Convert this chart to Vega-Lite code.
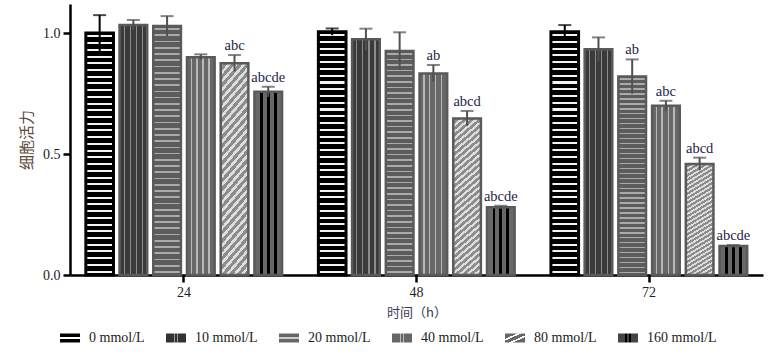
{
  "$schema": "https://vega.github.io/schema/vega-lite/v6.json",
  "autosize": {"type": "none"},
  "padding": {"left": 70, "top": 4, "right": 19, "bottom": 81},
  "width": 693,
  "height": 271,
  "background": "white",
  "config": {
    "view": {"stroke": null},
    "axis": {
      "domainColor": "#000", "domainWidth": 2.5, "tickColor": "#000", "tickWidth": 2.5, "tickSize": 7,
      "labelFont": "Liberation Serif", "labelFontSize": 14, "labelColor": "#222", "labelPadding": 3,
      "grid": false, "titleFont": "Noto Sans CJK SC", "titleFontWeight": "normal"
    }
  },
  "data": {"values": [
    {"time": "24", "conc": "0 mmol/L", "v": 1.0, "hi": 1.074, "lo": 0.926, "label": ""},
    {"time": "24", "conc": "10 mmol/L", "v": 1.033, "hi": 1.054, "lo": 1.012, "label": ""},
    {"time": "24", "conc": "20 mmol/L", "v": 1.029, "hi": 1.07, "lo": 0.988, "label": ""},
    {"time": "24", "conc": "40 mmol/L", "v": 0.9, "hi": 0.912, "lo": 0.888, "label": ""},
    {"time": "24", "conc": "80 mmol/L", "v": 0.875, "hi": 0.909, "lo": 0.841, "label": "abc"},
    {"time": "24", "conc": "160 mmol/L", "v": 0.757, "hi": 0.778, "lo": 0.736, "label": "abcde"},
    {"time": "48", "conc": "0 mmol/L", "v": 1.005, "hi": 1.019, "lo": 0.991, "label": ""},
    {"time": "48", "conc": "10 mmol/L", "v": 0.974, "hi": 1.018, "lo": 0.93, "label": ""},
    {"time": "48", "conc": "20 mmol/L", "v": 0.926, "hi": 1.003, "lo": 0.849, "label": ""},
    {"time": "48", "conc": "40 mmol/L", "v": 0.833, "hi": 0.868, "lo": 0.798, "label": "ab"},
    {"time": "48", "conc": "80 mmol/L", "v": 0.647, "hi": 0.678, "lo": 0.616, "label": "abcd"},
    {"time": "48", "conc": "160 mmol/L", "v": 0.28, "hi": 0.286, "lo": 0.274, "label": "abcde"},
    {"time": "72", "conc": "0 mmol/L", "v": 1.005, "hi": 1.033, "lo": 0.977, "label": ""},
    {"time": "72", "conc": "10 mmol/L", "v": 0.933, "hi": 0.982, "lo": 0.884, "label": ""},
    {"time": "72", "conc": "20 mmol/L", "v": 0.82, "hi": 0.891, "lo": 0.749, "label": "ab"},
    {"time": "72", "conc": "40 mmol/L", "v": 0.7, "hi": 0.72, "lo": 0.68, "label": "abc"},
    {"time": "72", "conc": "80 mmol/L", "v": 0.459, "hi": 0.485, "lo": 0.433, "label": "abcd"},
    {"time": "72", "conc": "160 mmol/L", "v": 0.12, "hi": 0.124, "lo": 0.116, "label": "abcde"}
  ]},
  "encoding": {
    "x": {"field": "time", "type": "nominal", "scale": {"paddingInner": 0.13, "paddingOuter": 0.055},
      "axis": {"labelAngle": 0, "title": "时间（h）", "titleFontSize": 13, "titleColor": "#3a3a55", "titlePadding": 7}},
    "xOffset": {"field": "conc", "type": "nominal", "scale": {"domain": ["0 mmol/L", "10 mmol/L", "20 mmol/L", "40 mmol/L", "80 mmol/L", "160 mmol/L"], "paddingInner": 0.18, "paddingOuter": 0.09}}
  },
  "layer": [
    {
      "mark": {"type": "bar"},
      "encoding": {
        "y": {"field": "v", "type": "quantitative", "title": "细胞活力", "scale": {"domain": [0, 1.12], "nice": false},
          "axis": {"values": [0, 0.5, 1], "format": ".1f", "titleFontSize": 15, "titleColor": "#5e4a3e", "titlePadding": 8}},
        "fill": {
          "condition": [
            {"test": "datum.conc === '0 mmol/L'", "value": {"gradient": "linear", "x1": 0, "y1": 0, "x2": 0, "y2": 1, "stops": [
              {"offset":0.0097,"color":"#000"},{"offset":0.0097,"color":"#f4f4f4"},{"offset":0.0181,"color":"#f4f4f4"},{"offset":0.0181,"color":"#000"},
              {"offset":0.0375,"color":"#000"},{"offset":0.0375,"color":"#f4f4f4"},{"offset":0.0458,"color":"#f4f4f4"},{"offset":0.0458,"color":"#000"},
              {"offset":0.0653,"color":"#000"},{"offset":0.0653,"color":"#f4f4f4"},{"offset":0.0736,"color":"#f4f4f4"},{"offset":0.0736,"color":"#000"},
              {"offset":0.0931,"color":"#000"},{"offset":0.0931,"color":"#f4f4f4"},{"offset":0.1014,"color":"#f4f4f4"},{"offset":0.1014,"color":"#000"},
              {"offset":0.1208,"color":"#000"},{"offset":0.1208,"color":"#f4f4f4"},{"offset":0.1292,"color":"#f4f4f4"},{"offset":0.1292,"color":"#000"},
              {"offset":0.1486,"color":"#000"},{"offset":0.1486,"color":"#f4f4f4"},{"offset":0.1569,"color":"#f4f4f4"},{"offset":0.1569,"color":"#000"},
              {"offset":0.1764,"color":"#000"},{"offset":0.1764,"color":"#f4f4f4"},{"offset":0.1847,"color":"#f4f4f4"},{"offset":0.1847,"color":"#000"},
              {"offset":0.2042,"color":"#000"},{"offset":0.2042,"color":"#f4f4f4"},{"offset":0.2125,"color":"#f4f4f4"},{"offset":0.2125,"color":"#000"},
              {"offset":0.2319,"color":"#000"},{"offset":0.2319,"color":"#f4f4f4"},{"offset":0.2403,"color":"#f4f4f4"},{"offset":0.2403,"color":"#000"},
              {"offset":0.2597,"color":"#000"},{"offset":0.2597,"color":"#f4f4f4"},{"offset":0.2681,"color":"#f4f4f4"},{"offset":0.2681,"color":"#000"},
              {"offset":0.2875,"color":"#000"},{"offset":0.2875,"color":"#f4f4f4"},{"offset":0.2958,"color":"#f4f4f4"},{"offset":0.2958,"color":"#000"},
              {"offset":0.3153,"color":"#000"},{"offset":0.3153,"color":"#f4f4f4"},{"offset":0.3236,"color":"#f4f4f4"},{"offset":0.3236,"color":"#000"},
              {"offset":0.3431,"color":"#000"},{"offset":0.3431,"color":"#f4f4f4"},{"offset":0.3514,"color":"#f4f4f4"},{"offset":0.3514,"color":"#000"},
              {"offset":0.3708,"color":"#000"},{"offset":0.3708,"color":"#f4f4f4"},{"offset":0.3792,"color":"#f4f4f4"},{"offset":0.3792,"color":"#000"},
              {"offset":0.3986,"color":"#000"},{"offset":0.3986,"color":"#f4f4f4"},{"offset":0.4069,"color":"#f4f4f4"},{"offset":0.4069,"color":"#000"},
              {"offset":0.4264,"color":"#000"},{"offset":0.4264,"color":"#f4f4f4"},{"offset":0.4347,"color":"#f4f4f4"},{"offset":0.4347,"color":"#000"},
              {"offset":0.4542,"color":"#000"},{"offset":0.4542,"color":"#f4f4f4"},{"offset":0.4625,"color":"#f4f4f4"},{"offset":0.4625,"color":"#000"},
              {"offset":0.4819,"color":"#000"},{"offset":0.4819,"color":"#f4f4f4"},{"offset":0.4903,"color":"#f4f4f4"},{"offset":0.4903,"color":"#000"},
              {"offset":0.5097,"color":"#000"},{"offset":0.5097,"color":"#f4f4f4"},{"offset":0.5181,"color":"#f4f4f4"},{"offset":0.5181,"color":"#000"},
              {"offset":0.5375,"color":"#000"},{"offset":0.5375,"color":"#f4f4f4"},{"offset":0.5458,"color":"#f4f4f4"},{"offset":0.5458,"color":"#000"},
              {"offset":0.5653,"color":"#000"},{"offset":0.5653,"color":"#f4f4f4"},{"offset":0.5736,"color":"#f4f4f4"},{"offset":0.5736,"color":"#000"},
              {"offset":0.5931,"color":"#000"},{"offset":0.5931,"color":"#f4f4f4"},{"offset":0.6014,"color":"#f4f4f4"},{"offset":0.6014,"color":"#000"},
              {"offset":0.6208,"color":"#000"},{"offset":0.6208,"color":"#f4f4f4"},{"offset":0.6292,"color":"#f4f4f4"},{"offset":0.6292,"color":"#000"},
              {"offset":0.6486,"color":"#000"},{"offset":0.6486,"color":"#f4f4f4"},{"offset":0.6569,"color":"#f4f4f4"},{"offset":0.6569,"color":"#000"},
              {"offset":0.6764,"color":"#000"},{"offset":0.6764,"color":"#f4f4f4"},{"offset":0.6847,"color":"#f4f4f4"},{"offset":0.6847,"color":"#000"},
              {"offset":0.7042,"color":"#000"},{"offset":0.7042,"color":"#f4f4f4"},{"offset":0.7125,"color":"#f4f4f4"},{"offset":0.7125,"color":"#000"},
              {"offset":0.7319,"color":"#000"},{"offset":0.7319,"color":"#f4f4f4"},{"offset":0.7403,"color":"#f4f4f4"},{"offset":0.7403,"color":"#000"},
              {"offset":0.7597,"color":"#000"},{"offset":0.7597,"color":"#f4f4f4"},{"offset":0.7681,"color":"#f4f4f4"},{"offset":0.7681,"color":"#000"},
              {"offset":0.7875,"color":"#000"},{"offset":0.7875,"color":"#f4f4f4"},{"offset":0.7958,"color":"#f4f4f4"},{"offset":0.7958,"color":"#000"},
              {"offset":0.8153,"color":"#000"},{"offset":0.8153,"color":"#f4f4f4"},{"offset":0.8236,"color":"#f4f4f4"},{"offset":0.8236,"color":"#000"},
              {"offset":0.8431,"color":"#000"},{"offset":0.8431,"color":"#f4f4f4"},{"offset":0.8514,"color":"#f4f4f4"},{"offset":0.8514,"color":"#000"},
              {"offset":0.8708,"color":"#000"},{"offset":0.8708,"color":"#f4f4f4"},{"offset":0.8792,"color":"#f4f4f4"},{"offset":0.8792,"color":"#000"},
              {"offset":0.8986,"color":"#000"},{"offset":0.8986,"color":"#f4f4f4"},{"offset":0.9069,"color":"#f4f4f4"},{"offset":0.9069,"color":"#000"},
              {"offset":0.9264,"color":"#000"},{"offset":0.9264,"color":"#f4f4f4"},{"offset":0.9347,"color":"#f4f4f4"},{"offset":0.9347,"color":"#000"},
              {"offset":0.9542,"color":"#000"},{"offset":0.9542,"color":"#f4f4f4"},{"offset":0.9625,"color":"#f4f4f4"},{"offset":0.9625,"color":"#000"},
              {"offset":0.9819,"color":"#000"},{"offset":0.9819,"color":"#f4f4f4"},{"offset":0.9903,"color":"#f4f4f4"},{"offset":0.9903,"color":"#000"}
            ]}},
            {"test": "datum.conc === '10 mmol/L'", "value": {"gradient": "linear", "x1": 0, "y1": 0, "x2": 1, "y2": 0, "stops": [
              {"offset":0.15,"color":"#3a3a3a"},{"offset":0.15,"color":"#8c8c8c"},{"offset":0.19,"color":"#8c8c8c"},{"offset":0.19,"color":"#3a3a3a"},
              {"offset":0.37,"color":"#3a3a3a"},{"offset":0.37,"color":"#8c8c8c"},{"offset":0.41,"color":"#8c8c8c"},{"offset":0.41,"color":"#3a3a3a"},
              {"offset":0.59,"color":"#3a3a3a"},{"offset":0.59,"color":"#8c8c8c"},{"offset":0.63,"color":"#8c8c8c"},{"offset":0.63,"color":"#3a3a3a"},
              {"offset":0.81,"color":"#3a3a3a"},{"offset":0.81,"color":"#8c8c8c"},{"offset":0.85,"color":"#8c8c8c"},{"offset":0.85,"color":"#3a3a3a"}
            ]}},
            {"test": "datum.conc === '20 mmol/L'", "value": {"gradient": "linear", "x1": 0, "y1": 0, "x2": 0, "y2": 1, "stops": [
              {"offset":0.009,"color":"#5c5c5c"},{"offset":0.009,"color":"#aaa"},{"offset":0.016,"color":"#aaa"},{"offset":0.016,"color":"#5c5c5c"},
              {"offset":0.034,"color":"#5c5c5c"},{"offset":0.034,"color":"#aaa"},{"offset":0.041,"color":"#aaa"},{"offset":0.041,"color":"#5c5c5c"},
              {"offset":0.059,"color":"#5c5c5c"},{"offset":0.059,"color":"#aaa"},{"offset":0.066,"color":"#aaa"},{"offset":0.066,"color":"#5c5c5c"},
              {"offset":0.084,"color":"#5c5c5c"},{"offset":0.084,"color":"#aaa"},{"offset":0.091,"color":"#aaa"},{"offset":0.091,"color":"#5c5c5c"},
              {"offset":0.109,"color":"#5c5c5c"},{"offset":0.109,"color":"#aaa"},{"offset":0.116,"color":"#aaa"},{"offset":0.116,"color":"#5c5c5c"},
              {"offset":0.134,"color":"#5c5c5c"},{"offset":0.134,"color":"#aaa"},{"offset":0.141,"color":"#aaa"},{"offset":0.141,"color":"#5c5c5c"},
              {"offset":0.159,"color":"#5c5c5c"},{"offset":0.159,"color":"#aaa"},{"offset":0.166,"color":"#aaa"},{"offset":0.166,"color":"#5c5c5c"},
              {"offset":0.184,"color":"#5c5c5c"},{"offset":0.184,"color":"#aaa"},{"offset":0.191,"color":"#aaa"},{"offset":0.191,"color":"#5c5c5c"},
              {"offset":0.209,"color":"#5c5c5c"},{"offset":0.209,"color":"#aaa"},{"offset":0.216,"color":"#aaa"},{"offset":0.216,"color":"#5c5c5c"},
              {"offset":0.234,"color":"#5c5c5c"},{"offset":0.234,"color":"#aaa"},{"offset":0.241,"color":"#aaa"},{"offset":0.241,"color":"#5c5c5c"},
              {"offset":0.259,"color":"#5c5c5c"},{"offset":0.259,"color":"#aaa"},{"offset":0.266,"color":"#aaa"},{"offset":0.266,"color":"#5c5c5c"},
              {"offset":0.284,"color":"#5c5c5c"},{"offset":0.284,"color":"#aaa"},{"offset":0.291,"color":"#aaa"},{"offset":0.291,"color":"#5c5c5c"},
              {"offset":0.309,"color":"#5c5c5c"},{"offset":0.309,"color":"#aaa"},{"offset":0.316,"color":"#aaa"},{"offset":0.316,"color":"#5c5c5c"},
              {"offset":0.334,"color":"#5c5c5c"},{"offset":0.334,"color":"#aaa"},{"offset":0.341,"color":"#aaa"},{"offset":0.341,"color":"#5c5c5c"},
              {"offset":0.359,"color":"#5c5c5c"},{"offset":0.359,"color":"#aaa"},{"offset":0.366,"color":"#aaa"},{"offset":0.366,"color":"#5c5c5c"},
              {"offset":0.384,"color":"#5c5c5c"},{"offset":0.384,"color":"#aaa"},{"offset":0.391,"color":"#aaa"},{"offset":0.391,"color":"#5c5c5c"},
              {"offset":0.409,"color":"#5c5c5c"},{"offset":0.409,"color":"#aaa"},{"offset":0.416,"color":"#aaa"},{"offset":0.416,"color":"#5c5c5c"},
              {"offset":0.434,"color":"#5c5c5c"},{"offset":0.434,"color":"#aaa"},{"offset":0.441,"color":"#aaa"},{"offset":0.441,"color":"#5c5c5c"},
              {"offset":0.459,"color":"#5c5c5c"},{"offset":0.459,"color":"#aaa"},{"offset":0.466,"color":"#aaa"},{"offset":0.466,"color":"#5c5c5c"},
              {"offset":0.484,"color":"#5c5c5c"},{"offset":0.484,"color":"#aaa"},{"offset":0.491,"color":"#aaa"},{"offset":0.491,"color":"#5c5c5c"},
              {"offset":0.509,"color":"#5c5c5c"},{"offset":0.509,"color":"#aaa"},{"offset":0.516,"color":"#aaa"},{"offset":0.516,"color":"#5c5c5c"},
              {"offset":0.534,"color":"#5c5c5c"},{"offset":0.534,"color":"#aaa"},{"offset":0.541,"color":"#aaa"},{"offset":0.541,"color":"#5c5c5c"},
              {"offset":0.559,"color":"#5c5c5c"},{"offset":0.559,"color":"#aaa"},{"offset":0.566,"color":"#aaa"},{"offset":0.566,"color":"#5c5c5c"},
              {"offset":0.584,"color":"#5c5c5c"},{"offset":0.584,"color":"#aaa"},{"offset":0.591,"color":"#aaa"},{"offset":0.591,"color":"#5c5c5c"},
              {"offset":0.609,"color":"#5c5c5c"},{"offset":0.609,"color":"#aaa"},{"offset":0.616,"color":"#aaa"},{"offset":0.616,"color":"#5c5c5c"},
              {"offset":0.634,"color":"#5c5c5c"},{"offset":0.634,"color":"#aaa"},{"offset":0.641,"color":"#aaa"},{"offset":0.641,"color":"#5c5c5c"},
              {"offset":0.659,"color":"#5c5c5c"},{"offset":0.659,"color":"#aaa"},{"offset":0.666,"color":"#aaa"},{"offset":0.666,"color":"#5c5c5c"},
              {"offset":0.684,"color":"#5c5c5c"},{"offset":0.684,"color":"#aaa"},{"offset":0.691,"color":"#aaa"},{"offset":0.691,"color":"#5c5c5c"},
              {"offset":0.709,"color":"#5c5c5c"},{"offset":0.709,"color":"#aaa"},{"offset":0.716,"color":"#aaa"},{"offset":0.716,"color":"#5c5c5c"},
              {"offset":0.734,"color":"#5c5c5c"},{"offset":0.734,"color":"#aaa"},{"offset":0.741,"color":"#aaa"},{"offset":0.741,"color":"#5c5c5c"},
              {"offset":0.759,"color":"#5c5c5c"},{"offset":0.759,"color":"#aaa"},{"offset":0.766,"color":"#aaa"},{"offset":0.766,"color":"#5c5c5c"},
              {"offset":0.784,"color":"#5c5c5c"},{"offset":0.784,"color":"#aaa"},{"offset":0.791,"color":"#aaa"},{"offset":0.791,"color":"#5c5c5c"},
              {"offset":0.809,"color":"#5c5c5c"},{"offset":0.809,"color":"#aaa"},{"offset":0.816,"color":"#aaa"},{"offset":0.816,"color":"#5c5c5c"},
              {"offset":0.834,"color":"#5c5c5c"},{"offset":0.834,"color":"#aaa"},{"offset":0.841,"color":"#aaa"},{"offset":0.841,"color":"#5c5c5c"},
              {"offset":0.859,"color":"#5c5c5c"},{"offset":0.859,"color":"#aaa"},{"offset":0.866,"color":"#aaa"},{"offset":0.866,"color":"#5c5c5c"},
              {"offset":0.884,"color":"#5c5c5c"},{"offset":0.884,"color":"#aaa"},{"offset":0.891,"color":"#aaa"},{"offset":0.891,"color":"#5c5c5c"},
              {"offset":0.909,"color":"#5c5c5c"},{"offset":0.909,"color":"#aaa"},{"offset":0.916,"color":"#aaa"},{"offset":0.916,"color":"#5c5c5c"},
              {"offset":0.934,"color":"#5c5c5c"},{"offset":0.934,"color":"#aaa"},{"offset":0.941,"color":"#aaa"},{"offset":0.941,"color":"#5c5c5c"},
              {"offset":0.959,"color":"#5c5c5c"},{"offset":0.959,"color":"#aaa"},{"offset":0.966,"color":"#aaa"},{"offset":0.966,"color":"#5c5c5c"},
              {"offset":0.984,"color":"#5c5c5c"},{"offset":0.984,"color":"#aaa"},{"offset":0.991,"color":"#aaa"},{"offset":0.991,"color":"#5c5c5c"}
            ]}},
            {"test": "datum.conc === '40 mmol/L'", "value": {"gradient": "linear", "x1": 0, "y1": 0, "x2": 1, "y2": 0, "stops": [
              {"offset":0.14,"color":"#686868"},{"offset":0.14,"color":"#b8b8b8"},{"offset":0.19,"color":"#b8b8b8"},{"offset":0.19,"color":"#686868"},
              {"offset":0.34,"color":"#686868"},{"offset":0.34,"color":"#b8b8b8"},{"offset":0.39,"color":"#b8b8b8"},{"offset":0.39,"color":"#686868"},
              {"offset":0.56,"color":"#686868"},{"offset":0.56,"color":"#b8b8b8"},{"offset":0.61,"color":"#b8b8b8"},{"offset":0.61,"color":"#686868"},
              {"offset":0.77,"color":"#686868"},{"offset":0.77,"color":"#b8b8b8"},{"offset":0.82,"color":"#b8b8b8"},{"offset":0.82,"color":"#686868"}
            ]}},
            {"test": "datum.conc === '80 mmol/L'", "value": {"gradient": "linear", "x1": 0, "y1": 0, "x2": 0.18, "y2": 1.2, "stops": [
              {"offset":0,"color":"#dedede"},{"offset":0.015,"color":"#dedede"},{"offset":0.015,"color":"#8c8c8c"},
              {"offset":0.0333,"color":"#8c8c8c"},{"offset":0.0333,"color":"#dedede"},{"offset":0.0483,"color":"#dedede"},{"offset":0.0483,"color":"#8c8c8c"},
              {"offset":0.0667,"color":"#8c8c8c"},{"offset":0.0667,"color":"#dedede"},{"offset":0.0817,"color":"#dedede"},{"offset":0.0817,"color":"#8c8c8c"},
              {"offset":0.1,"color":"#8c8c8c"},{"offset":0.1,"color":"#dedede"},{"offset":0.115,"color":"#dedede"},{"offset":0.115,"color":"#8c8c8c"},
              {"offset":0.1333,"color":"#8c8c8c"},{"offset":0.1333,"color":"#dedede"},{"offset":0.1483,"color":"#dedede"},{"offset":0.1483,"color":"#8c8c8c"},
              {"offset":0.1667,"color":"#8c8c8c"},{"offset":0.1667,"color":"#dedede"},{"offset":0.1817,"color":"#dedede"},{"offset":0.1817,"color":"#8c8c8c"},
              {"offset":0.2,"color":"#8c8c8c"},{"offset":0.2,"color":"#dedede"},{"offset":0.215,"color":"#dedede"},{"offset":0.215,"color":"#8c8c8c"},
              {"offset":0.2333,"color":"#8c8c8c"},{"offset":0.2333,"color":"#dedede"},{"offset":0.2483,"color":"#dedede"},{"offset":0.2483,"color":"#8c8c8c"},
              {"offset":0.2667,"color":"#8c8c8c"},{"offset":0.2667,"color":"#dedede"},{"offset":0.2817,"color":"#dedede"},{"offset":0.2817,"color":"#8c8c8c"},
              {"offset":0.3,"color":"#8c8c8c"},{"offset":0.3,"color":"#dedede"},{"offset":0.315,"color":"#dedede"},{"offset":0.315,"color":"#8c8c8c"},
              {"offset":0.3333,"color":"#8c8c8c"},{"offset":0.3333,"color":"#dedede"},{"offset":0.3483,"color":"#dedede"},{"offset":0.3483,"color":"#8c8c8c"},
              {"offset":0.3667,"color":"#8c8c8c"},{"offset":0.3667,"color":"#dedede"},{"offset":0.3817,"color":"#dedede"},{"offset":0.3817,"color":"#8c8c8c"},
              {"offset":0.4,"color":"#8c8c8c"},{"offset":0.4,"color":"#dedede"},{"offset":0.415,"color":"#dedede"},{"offset":0.415,"color":"#8c8c8c"},
              {"offset":0.4333,"color":"#8c8c8c"},{"offset":0.4333,"color":"#dedede"},{"offset":0.4483,"color":"#dedede"},{"offset":0.4483,"color":"#8c8c8c"},
              {"offset":0.4667,"color":"#8c8c8c"},{"offset":0.4667,"color":"#dedede"},{"offset":0.4817,"color":"#dedede"},{"offset":0.4817,"color":"#8c8c8c"},
              {"offset":0.5,"color":"#8c8c8c"},{"offset":0.5,"color":"#dedede"},{"offset":0.515,"color":"#dedede"},{"offset":0.515,"color":"#8c8c8c"},
              {"offset":0.5333,"color":"#8c8c8c"},{"offset":0.5333,"color":"#dedede"},{"offset":0.5483,"color":"#dedede"},{"offset":0.5483,"color":"#8c8c8c"},
              {"offset":0.5667,"color":"#8c8c8c"},{"offset":0.5667,"color":"#dedede"},{"offset":0.5817,"color":"#dedede"},{"offset":0.5817,"color":"#8c8c8c"},
              {"offset":0.6,"color":"#8c8c8c"},{"offset":0.6,"color":"#dedede"},{"offset":0.615,"color":"#dedede"},{"offset":0.615,"color":"#8c8c8c"},
              {"offset":0.6333,"color":"#8c8c8c"},{"offset":0.6333,"color":"#dedede"},{"offset":0.6483,"color":"#dedede"},{"offset":0.6483,"color":"#8c8c8c"},
              {"offset":0.6667,"color":"#8c8c8c"},{"offset":0.6667,"color":"#dedede"},{"offset":0.6817,"color":"#dedede"},{"offset":0.6817,"color":"#8c8c8c"},
              {"offset":0.7,"color":"#8c8c8c"},{"offset":0.7,"color":"#dedede"},{"offset":0.715,"color":"#dedede"},{"offset":0.715,"color":"#8c8c8c"},
              {"offset":0.7333,"color":"#8c8c8c"},{"offset":0.7333,"color":"#dedede"},{"offset":0.7483,"color":"#dedede"},{"offset":0.7483,"color":"#8c8c8c"},
              {"offset":0.7667,"color":"#8c8c8c"},{"offset":0.7667,"color":"#dedede"},{"offset":0.7817,"color":"#dedede"},{"offset":0.7817,"color":"#8c8c8c"},
              {"offset":0.8,"color":"#8c8c8c"},{"offset":0.8,"color":"#dedede"},{"offset":0.815,"color":"#dedede"},{"offset":0.815,"color":"#8c8c8c"},
              {"offset":0.8333,"color":"#8c8c8c"},{"offset":0.8333,"color":"#dedede"},{"offset":0.8483,"color":"#dedede"},{"offset":0.8483,"color":"#8c8c8c"},
              {"offset":0.8667,"color":"#8c8c8c"},{"offset":0.8667,"color":"#dedede"},{"offset":0.8817,"color":"#dedede"},{"offset":0.8817,"color":"#8c8c8c"},
              {"offset":0.9,"color":"#8c8c8c"},{"offset":0.9,"color":"#dedede"},{"offset":0.915,"color":"#dedede"},{"offset":0.915,"color":"#8c8c8c"},
              {"offset":0.9333,"color":"#8c8c8c"},{"offset":0.9333,"color":"#dedede"},{"offset":0.9483,"color":"#dedede"},{"offset":0.9483,"color":"#8c8c8c"},
              {"offset":0.9667,"color":"#8c8c8c"},{"offset":0.9667,"color":"#dedede"},{"offset":0.9817,"color":"#dedede"},{"offset":0.9817,"color":"#8c8c8c"}
            ]}},
            {"test": "datum.conc === '160 mmol/L'", "value": {"gradient": "linear", "x1": 0, "y1": 0, "x2": 1, "y2": 0, "stops": [
              {"offset":0.2,"color":"#686868"},{"offset":0.2,"color":"#000"},{"offset":0.3,"color":"#000"},{"offset":0.3,"color":"#686868"},
              {"offset":0.45,"color":"#686868"},{"offset":0.45,"color":"#000"},{"offset":0.55,"color":"#000"},{"offset":0.55,"color":"#686868"},
              {"offset":0.7,"color":"#686868"},{"offset":0.7,"color":"#000"},{"offset":0.8,"color":"#000"},{"offset":0.8,"color":"#686868"}
            ]}}
          ],
          "value": "#666"
        },
        "stroke": {"condition": {"test": "datum.conc === '0 mmol/L'", "value": "#000"}, "value": "#5a5a5a"},
        "strokeWidth": {"condition": {"test": "datum.conc === '0 mmol/L'", "value": 3}, "value": 2.5}
      }
    },
    {
      "mark": {"type": "bar", "opacity": 0},
      "encoding": {
        "y": {"field": "v", "type": "quantitative", "title": "细胞活力"},
        "fill": {"field": "conc", "type": "nominal",
          "scale": {
            "domain": ["0 mmol/L", "10 mmol/L", "20 mmol/L", "40 mmol/L", "80 mmol/L", "160 mmol/L"],
            "range": [
              {"expr": "{gradient: 'linear', x1: 0, y1: 0, x2: 0, y2: 1, stops: [{offset: 0.4, color: '#000'}, {offset: 0.4, color: '#fff'}, {offset: 0.62, color: '#fff'}, {offset: 0.62, color: '#000'}]}"},
              {"expr": "{gradient: 'linear', x1: 0, y1: 0, x2: 1, y2: 0, stops: [{offset: 0.38, color: '#333'}, {offset: 0.38, color: '#999'}, {offset: 0.44, color: '#999'}, {offset: 0.44, color: '#333'}, {offset: 0.56, color: '#333'}, {offset: 0.56, color: '#999'}, {offset: 0.62, color: '#999'}, {offset: 0.62, color: '#333'}]}"},
              {"expr": "{gradient: 'linear', x1: 0, y1: 0, x2: 0, y2: 1, stops: [{offset: 0.42, color: '#666'}, {offset: 0.42, color: '#ccc'}, {offset: 0.6, color: '#ccc'}, {offset: 0.6, color: '#666'}]}"},
              {"expr": "{gradient: 'linear', x1: 0, y1: 0, x2: 1, y2: 0, stops: [{offset: 0.38, color: '#666'}, {offset: 0.38, color: '#bbb'}, {offset: 0.44, color: '#bbb'}, {offset: 0.44, color: '#666'}, {offset: 0.56, color: '#666'}, {offset: 0.56, color: '#bbb'}, {offset: 0.62, color: '#bbb'}, {offset: 0.62, color: '#666'}]}"},
              {"expr": "{gradient: 'linear', x1: 0, y1: 0, x2: 1, y2: 1, stops: [{offset: 0.3, color: '#666'}, {offset: 0.3, color: '#fff'}, {offset: 0.4, color: '#fff'}, {offset: 0.4, color: '#666'}, {offset: 0.6, color: '#666'}, {offset: 0.6, color: '#fff'}, {offset: 0.7, color: '#fff'}, {offset: 0.7, color: '#666'}]}"},
              {"expr": "{gradient: 'linear', x1: 0, y1: 0, x2: 1, y2: 0, stops: [{offset: 0.36, color: '#444'}, {offset: 0.36, color: '#000'}, {offset: 0.46, color: '#000'}, {offset: 0.46, color: '#444'}, {offset: 0.56, color: '#444'}, {offset: 0.56, color: '#000'}, {offset: 0.66, color: '#000'}, {offset: 0.66, color: '#444'}]}"}
            ]
          },
          "legend": {
            "orient": "none", "legendX": -10, "legendY": 324, "direction": "horizontal", "columns": 6, "columnPadding": 21,
            "title": null, "padding": 0, "labelOffset": 9, "labelFont": "Liberation Serif", "labelFontSize": 14, "labelColor": "#222",
            "symbolType": "M-1,-0.45H1V0.45H-1Z", "symbolSize": 400, "symbolStrokeWidth": 0, "symbolOpacity": 1
          }
        }
      }
    },
    {
      "mark": {"type": "rule", "strokeWidth": 2},
      "encoding": {
        "y": {"field": "lo", "type": "quantitative", "title": "细胞活力"},
        "y2": {"field": "hi"},
        "color": {"condition": {"test": "datum.conc === '0 mmol/L'", "value": "#000"}, "value": "#505050"}
      }
    },
    {
      "mark": {"type": "tick", "thickness": 2, "size": 13},
      "encoding": {
        "y": {"field": "hi", "type": "quantitative", "title": "细胞活力"},
        "color": {"condition": {"test": "datum.conc === '0 mmol/L'", "value": "#000"}, "value": "#505050"}
      }
    },
    {
      "transform": [{"filter": "datum.label != ''"}],
      "mark": {"type": "text", "baseline": "bottom", "dy": -2, "font": "Liberation Serif", "fontSize": 14.5, "color": "#1e1e46"},
      "encoding": {
        "y": {"field": "hi", "type": "quantitative", "title": "细胞活力"},
        "text": {"field": "label"}
      }
    }
  ]
}
